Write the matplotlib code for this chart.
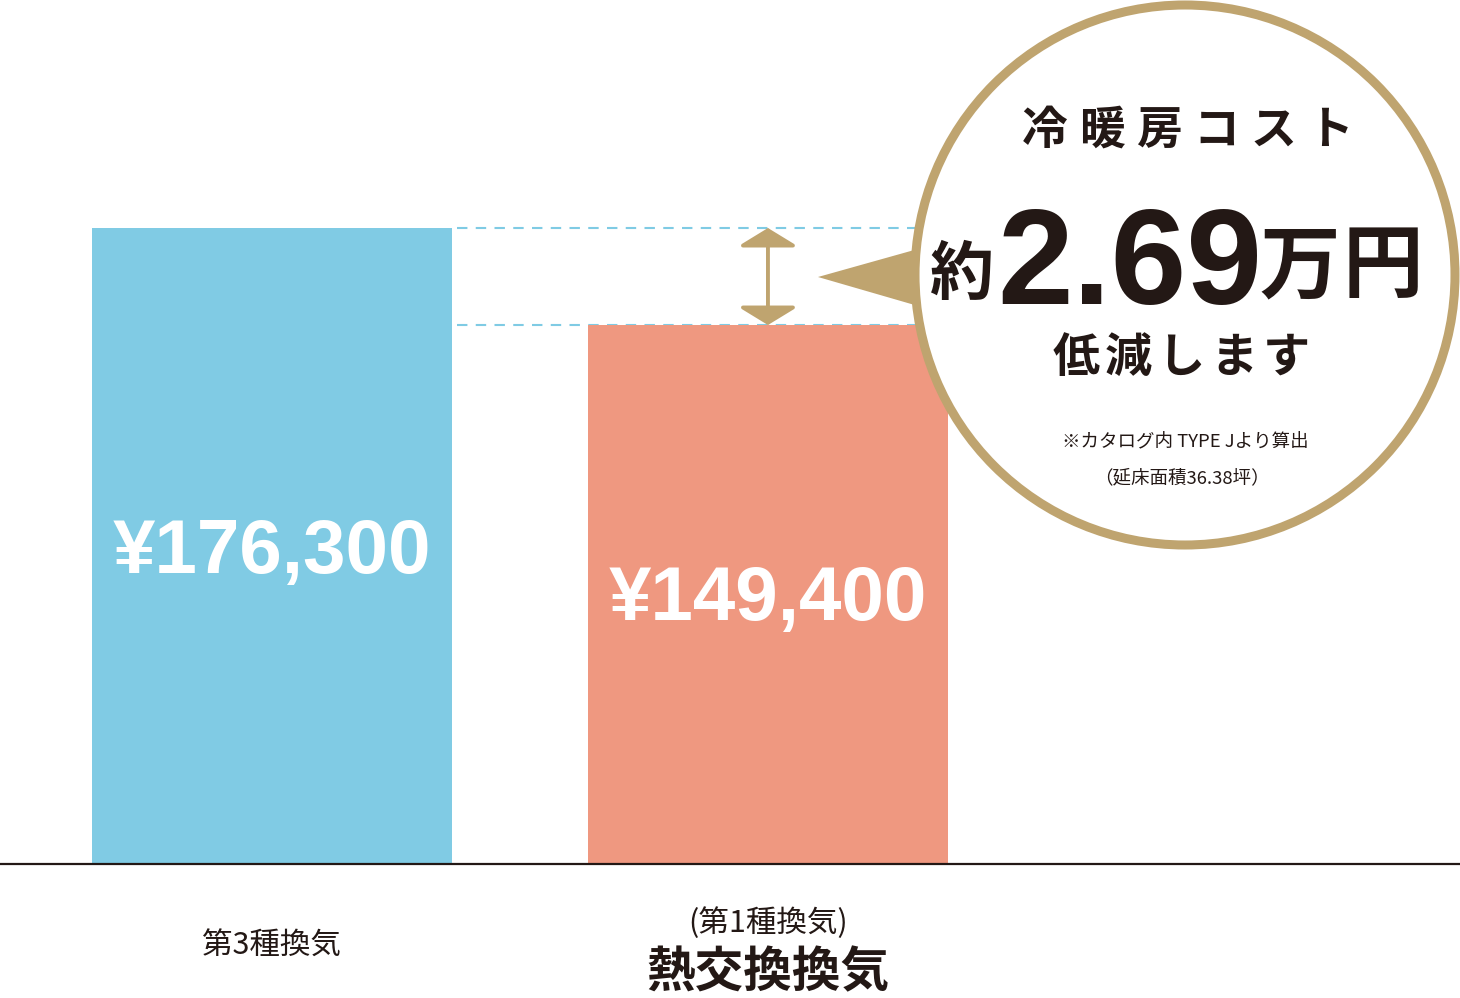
import matplotlib.pyplot as plt
from matplotlib.patches import Circle, Polygon, FancyArrowPatch

plt.rcParams["font.family"] = ["Noto Sans CJK JP", "DejaVu Sans"]

BLUE, SALMON, GOLD, INK, DASH = "#80cbe4", "#ef9880", "#bfa46f", "#231815", "#7fcbe4"

# data
categories = ["第3種換気", "熱交換換気"]
costs = [176300, 149400]
cost_labels = ["¥176,300", "¥149,400"]
bar_colors = [BLUE, SALMON]
saving = "2.69"

fig = plt.figure(figsize=(14.6, 9.98), dpi=100)
ax = fig.add_axes([0, 0, 1, 1])
ax.set_xlim(-0.548, 2.395)
ax.set_ylim(-37145, 239500)
ax.axis("off")

xs = range(len(costs))
ax.bar(xs, costs, width=0.726, color=bar_colors, zorder=2)
ax.axhline(0, color=INK, lw=1.6, zorder=3)
for x, v, lab in zip(xs, costs, cost_labels):
    ax.text(x, v * 0.488, lab, ha="center", va="center",
            color="white", fontsize=55, fontweight="bold", family="Liberation Sans", zorder=4)

# dashed guides + double arrow between the two bar tops
ax.hlines(costs, 0.373, 1.3, colors=DASH, lw=1.5, linestyles=(0, (5, 4)), zorder=1)
ax.add_patch(FancyArrowPatch((1, costs[1]), (1, costs[0]),
                             arrowstyle="<|-|>,head_length=0.55,head_width=0.9",
                             mutation_scale=20, color=GOLD, lw=2.8, shrinkA=0, shrinkB=0, zorder=3))

# category labels
ax.text(0, -22800, categories[0], ha="center", va="center", fontsize=22, color=INK)
ax.text(1, -16400, "(第1種換気)", ha="center", va="center", fontsize=22, color=INK)
ax.text(1, -30200, categories[1], ha="center", va="center", fontsize=35, fontweight="bold", color=INK)

# callout bubble, drawn in pixel space
ov = fig.add_axes([0, 0, 1, 1])
ov.set_xlim(0, 1460)
ov.set_ylim(998, 0)
ov.axis("off")
ov.add_patch(Polygon([(818, 277), (925, 247), (925, 308)], closed=True, color=GOLD, lw=0))
ov.add_patch(Circle((1185, 275), 270, facecolor="white", edgecolor=GOLD, lw=6.5))

for i, ch in enumerate("冷暖房コスト"):
    ov.text(1045 + i * 57, 131, ch, ha="center", va="center", fontsize=33,
            fontweight="bold", color=INK)
for i, ch in enumerate("低減します"):
    ov.text(1076 + i * 52.5, 358, ch, ha="center", va="center", fontsize=34,
            fontweight="bold", color=INK)

ov.text(962, 275, "約", ha="center", va="center", fontsize=46, fontweight="bold", color=INK)
ov.text(1130, 304, saving, ha="center", va="baseline", fontsize=98, fontweight="bold",
        family="Liberation Sans", color=INK)
ov.text(1300, 268, "万", ha="center", va="center", fontsize=58, fontweight="bold", color=INK)
ov.text(1383, 268, "円", ha="center", va="center", fontsize=58, fontweight="bold", color=INK)

ov.text(1185, 441, "※カタログ内 TYPE Jより算出", ha="center", va="center", fontsize=13.3, color=INK)
ov.text(1182, 478, "（延床面積36.38坪）", ha="center", va="center", fontsize=13.3, color=INK)

fig.savefig("out.png", dpi=100, facecolor="white")
